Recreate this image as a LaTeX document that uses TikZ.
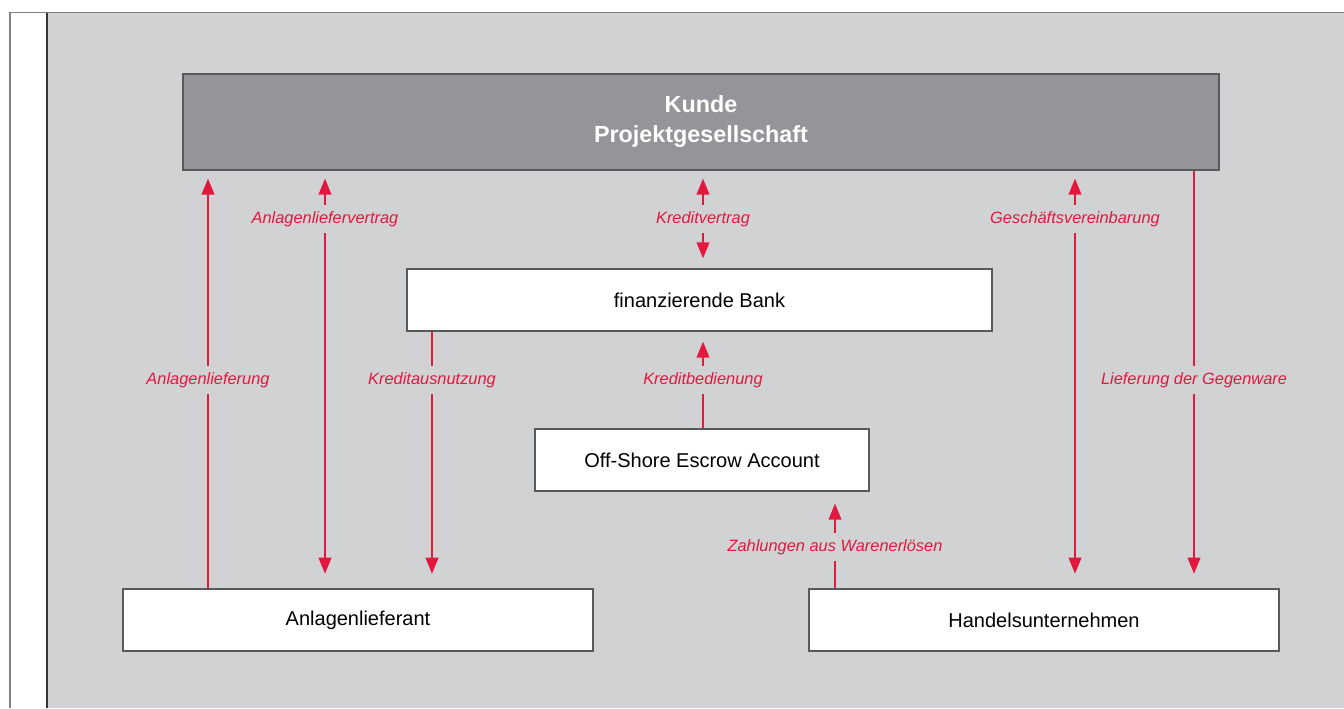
\documentclass[tikz,border=0pt]{standalone}
\usepackage{fontspec}
\setmainfont{Liberation Sans}
\usetikzlibrary{arrows.meta}
\definecolor{bg}{HTML}{D1D2D4}
\definecolor{topc}{HTML}{939598}
\definecolor{boxline}{HTML}{58595B}
\definecolor{accent}{HTML}{E4173E}
\begin{document}
\begin{tikzpicture}[x=0.75pt,y=-0.75pt,
  box/.style={draw=boxline,line width=0.9pt,fill=white,minimum height=46.5pt,inner sep=0pt,font=\fontsize{15}{18}\selectfont},
  conn/.style={draw=accent,line width=1.3pt},
  tipend/.style={-{Triangle[width=9.5pt,length=12pt]}},
  tipboth/.style={{Triangle[width=9.5pt,length=12pt]}-{Triangle[width=9.5pt,length=12pt]}},
  lbl/.style={fill=bg,text=accent,font=\fontsize{12.3}{14}\selectfont\itshape,inner xsep=2pt,inner ysep=5pt}
]
\useasboundingbox (0,0) rectangle (1344,708);
\fill[white] (0,0) rectangle (1344,708);
\fill[bg] (47,13) rectangle (1344,708);
\draw[black!50,line width=0.8pt] (10,708) -- (10,12.5) -- (1344,12.5);
\draw[black!80,line width=0.8pt] (47,13) -- (47,708);

\node[draw=boxline,fill=topc,line width=0.9pt,minimum width=777pt,minimum height=72pt,inner sep=0pt,
  text=white,font=\bfseries\fontsize{17.5}{22.5}\selectfont,align=center] (kunde) at (701,122) {Kunde\\Projektgesellschaft};
\node[box,minimum width=438.75pt] (bank) at (699.5,300) {finanzierende Bank};
\node[box,minimum width=250.5pt] (esc) at (702,460) {Off-Shore Escrow Account};
\node[box,minimum width=352.5pt] (anl) at (358,620) {Anlagenlieferant};
\node[box,minimum width=352.5pt] (han) at (1044,620) {Handelsunternehmen};

\coordinate (xa) at (208,0);
\coordinate (xb) at (325,0);
\coordinate (xc) at (432,0);
\coordinate (xd) at (703,0);
\coordinate (xf) at (835,0);
\coordinate (xg) at (1075,0);
\coordinate (xh) at (1194,0);

\draw[conn,tipend,shorten >=6pt] (anl.north -| xa) -- (kunde.south -| xa);
\draw[conn,tipboth,shorten <=6pt,shorten >=11pt] (kunde.south -| xb) -- (anl.north -| xb);
\draw[conn,tipend,shorten >=11pt] (bank.south -| xc) -- (anl.north -| xc);
\draw[conn,tipboth,shorten <=6pt,shorten >=7.5pt] (kunde.south -| xd) -- (bank.north -| xd);
\draw[conn,tipend,shorten >=7.5pt] (esc.north -| xd) -- (bank.south -| xd);
\draw[conn,tipend,shorten >=9pt] (han.north -| xf) -- (esc.south -| xf);
\draw[conn,tipboth,shorten <=6pt,shorten >=11pt] (kunde.south -| xg) -- (han.north -| xg);
\draw[conn,tipend,shorten >=11pt] (kunde.south -| xh) -- (han.north -| xh);

\node[lbl] (l1) at (208,380) {Anlagenlieferung};
\node[lbl] (l2) at (325,219) {Anlagenliefervertrag};
\node[lbl] (l3) at (432,380) {Kreditausnutzung};
\node[lbl] (l4) at (703,219) {Kreditvertrag};
\node[lbl] (l5) at (703,380) {Kreditbedienung};
\node[lbl] (l6) at (835,547) {Zahlungen aus Warenerlösen};
\node[lbl] (l7) at (1075,219) {Geschäftsvereinbarung};
\node[lbl] (l8) at (1194,380) {Lieferung der Gegenware};
\end{tikzpicture}
\end{document}
